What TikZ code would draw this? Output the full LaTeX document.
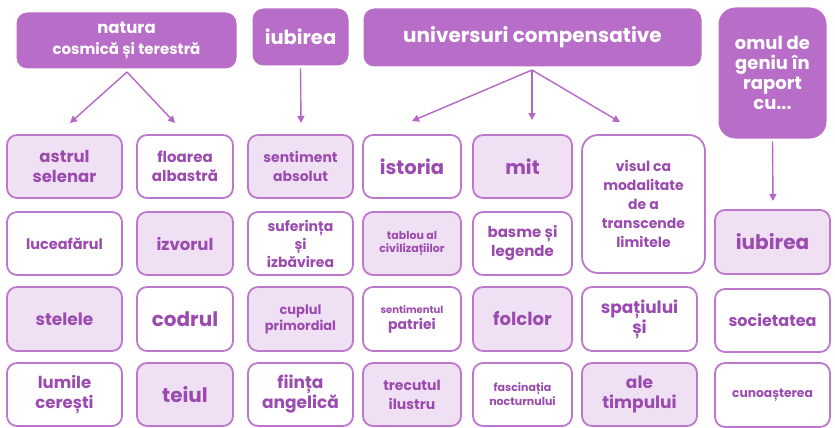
\documentclass[tikz,border=0pt]{standalone}
\usepackage{fontspec}
\setmainfont{Poppins}
\usetikzlibrary{arrows.meta,shadows}
\definecolor{topc}{HTML}{B86DC8}
\definecolor{edgec}{HTML}{BD78CD}
\definecolor{lightc}{HTML}{F0E0F3}
\definecolor{txtc}{HTML}{9B4BAF}
\definecolor{arrc}{HTML}{B467C5}
\newcommand\fsz[2]{\fontsize{#1}{#2}\selectfont}
\tikzset{
  topbox/.style={draw=white, line width=3pt, fill=topc, rounded corners=12pt, text=white,
    align=center, inner sep=2pt,
    drop shadow={shadow xshift=0.6pt, shadow yshift=-1.2pt, opacity=0.22, fill=black!60}},
  cellbox/.style={draw=edgec, line width=1.8pt, rounded corners=10pt, text=txtc, align=center, inner sep=2pt},
  lt/.style={cellbox, fill=lightc},
  wt/.style={cellbox, fill=white},
  fs/.style 2 args={font={\bfseries\fsz{#1}{#2}}},
  arr/.style={draw=arrc, line width=1.4pt, -{Triangle[length=7pt,width=7pt]}},
}
\begin{document}
\begin{tikzpicture}[x=1pt,y=-1pt]
\useasboundingbox (0,0) rectangle (835,428);
% top boxes
\node[topbox, fs={16.5}{19}, minimum width=223pt, minimum height=59pt] (natura) at (126.5,40.5)
  {natura\\[2.5pt]{\fsz{15}{17}cosmică și terestră}};
\node[topbox, fs={19.5}{22}, minimum width=99pt, minimum height=60pt] (iub) at (300.5,37)
  {iubirea};
\node[topbox, fs={20}{22}, minimum width=341pt, minimum height=61pt] (univ) at (532.5,37.5)
  {universuri compensative};
\node[topbox, fs={18}{20}, rounded corners=18pt, minimum width=111pt, minimum height=134pt] (omul) at (772.5,73)
  {omul de\\geniu în\\raport\\cu...};
% column 1
\node[lt, fs={16.5}{20}, minimum width=115pt, minimum height=63pt] (astrul) at (64.5,166.5) {astrul\\selenar};
\node[wt, fs={14.5}{16}, minimum width=115pt, minimum height=63pt] (lucea) at (64.5,243.5) {luceafărul};
\node[lt, fs={17}{20}, minimum width=115pt, minimum height=64pt] (stelele) at (64.5,319) {stelele};
\node[wt, fs={16.5}{20}, minimum width=115pt, minimum height=63pt] (lumile) at (64.5,394.5) {lumile\\cerești};
% column 2
\node[wt, fs={15}{19}, minimum width=96pt, minimum height=63pt] (floarea) at (185,166.5) {floarea\\albastră};
\node[lt, fs={16.5}{20}, minimum width=96pt, minimum height=63pt] (izvorul) at (185,243.5) {izvorul};
\node[wt, fs={20}{22}, minimum width=96pt, minimum height=64pt] (codrul) at (185,319) {codrul};
\node[lt, fs={20}{22}, minimum width=96pt, minimum height=63pt] (teiul) at (185,394.5) {teiul};
% column 3
\node[lt, fs={14}{19}, minimum width=105pt, minimum height=63pt] (sent) at (300.5,166.5) {sentiment\\absolut};
\node[wt, fs={14}{18}, minimum width=105pt, minimum height=63pt] (suf) at (300.5,243.5) {suferința\\și\\izbăvirea};
\node[lt, fs={13}{16}, minimum width=105pt, minimum height=64pt] (cuplul) at (300.5,319) {cuplul\\primordial};
\node[wt, fs={17}{20}, minimum width=105pt, minimum height=63pt] (fiinta) at (300.5,394.5) {ființa\\angelică};
% column 4
\node[wt, fs={19.5}{22}, minimum width=98pt, minimum height=63pt] (istoria) at (412,166.5) {istoria};
\node[lt, fs={11}{13.5}, minimum width=98pt, minimum height=63pt] (tablou) at (412,243.5) {tablou al\\civilizațiilor};
\node[wt, fs={14}{16}, minimum width=98pt, minimum height=64pt] (patriei) at (412,319)
  {{\fsz{10}{12}sentimentul}\\patriei};
\node[lt, fs={14}{19}, minimum width=98pt, minimum height=63pt] (trecutul) at (412,394.5) {trecutul\\ilustru};
% column 5
\node[lt, fs={19.5}{22}, minimum width=99pt, minimum height=63pt] (mit) at (522.5,166.5) {mit};
\node[wt, fs={15}{19}, minimum width=99pt, minimum height=63pt] (basme) at (522.5,243.5) {basme și\\legende};
\node[lt, fs={18}{20}, minimum width=99pt, minimum height=64pt] (folclor) at (522.5,319) {folclor};
\node[wt, fs={11}{14}, minimum width=99pt, minimum height=63pt] (fasc) at (522.5,394.5) {fascinația\\nocturnului};
% column 6
\node[wt, fs={14}{19}, rounded corners=16pt, minimum width=123pt, minimum height=138pt] (visul) at (643.5,204)
  {visul ca\\modalitate\\de a\\transcende\\limitele};
\node[wt, fs={17}{20}, minimum width=115pt, minimum height=64pt] (spatiu) at (639.5,319) {spațiului\\și};
\node[lt, fs={17}{20}, minimum width=115pt, minimum height=63pt] (timp) at (639.5,394.5) {ale\\timpului};
% column 7
\node[lt, fs={20}{22}, minimum width=115pt, minimum height=64pt] (iub2) at (772.5,242) {iubirea};
\node[wt, fs={16}{18}, minimum width=115pt, minimum height=63pt] (soc) at (772.5,320.5) {societatea};
\node[wt, fs={12.3}{15}, minimum width=115pt, minimum height=64pt] (cun) at (772.5,395) {cunoașterea};
% arrow ends
\coordinate (e1) at (70,123);
\coordinate (e2) at (175,123);
\coordinate (e3) at (301,123);
\coordinate (e4) at (412,121);
\coordinate (e5) at (532,120);
\coordinate (e6) at (620,122);
\coordinate (e7) at (773,201);
\coordinate (ns) at (127,72);
\coordinate (us) at (532,70);
\draw[arr] (ns) -- (e1);
\draw[arr] (ns) -- (e2);
\draw[arr] (iub.south) -- (e3);
\draw[arr] (us) -- (e4);
\draw[arr] (us) -- (e5);
\draw[arr] (us) -- (e6);
\draw[arr] (omul.south) -- (e7);
\end{tikzpicture}
\end{document}
